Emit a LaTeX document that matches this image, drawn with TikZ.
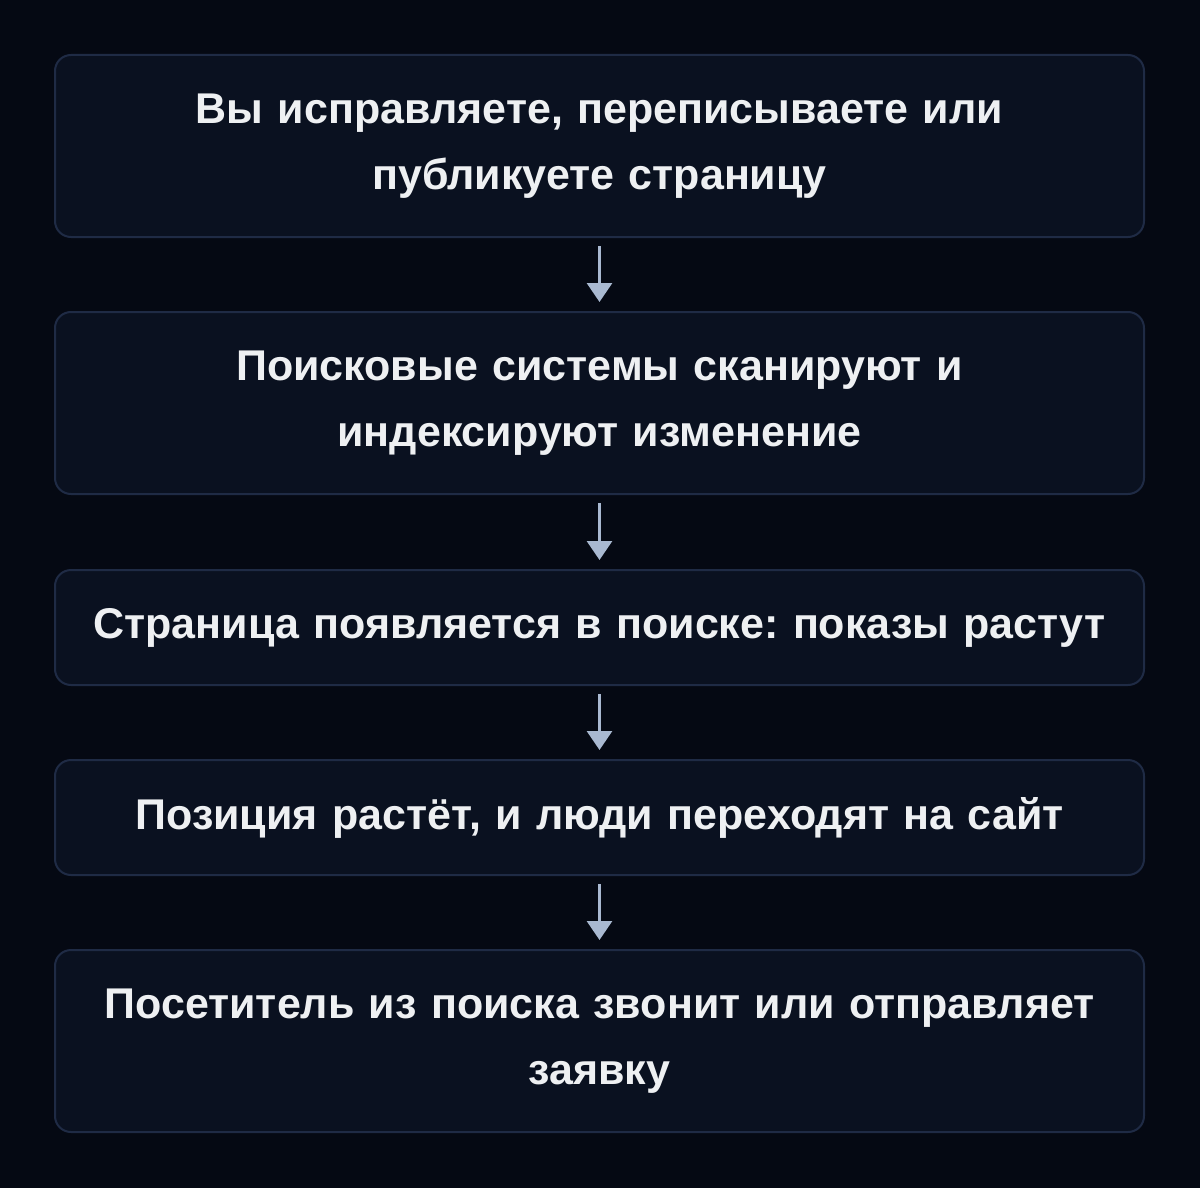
\documentclass[tikz,border=0pt]{standalone}
\usepackage{fontspec}
\setmainfont{Liberation Sans}
\frenchspacing
\usetikzlibrary{arrows.meta}
\definecolor{bg}{HTML}{050913}
\definecolor{boxfill}{HTML}{0A1120}
\definecolor{boxline}{HTML}{1F2B45}
\definecolor{arrowc}{HTML}{A9B9D1}
\definecolor{txt}{HTML}{EEF0F2}
\tikzset{
  stepbox/.style={draw=boxline, line width=2pt, fill=boxfill, rounded corners=16pt,
    minimum width=1089pt, text=txt, font=\fontsize{43}{66}\selectfont\bfseries, align=center, text width=1070pt, inner sep=0pt},
  flowarrow/.style={draw=arrowc, line width=3pt, -{Triangle[width=25pt,length=19pt]}}
}
\begin{document}
\begin{tikzpicture}[x=1pt,y=-1pt]
\useasboundingbox[fill=bg] (0,0) rectangle (1200,1188);
\node[stepbox, minimum height=182pt] (b1) at (599.5,146) {Вы исправляете, переписываете или\\публикуете страницу};
\node[stepbox, minimum height=182pt] (b2) at (599.5,403) {Поисковые системы сканируют и\\индексируют изменение};
\node[stepbox, minimum height=115pt] (b3) at (599.5,627.5) {Страница появляется в поиске: показы растут};
\node[stepbox, minimum height=115pt] (b4) at (599.5,817.5) {Позиция растёт, и люди переходят на сайт};
\node[stepbox, minimum height=182pt] (b5) at (599.5,1041) {Посетитель из поиска звонит или отправляет\\заявку};
\draw[flowarrow] ([yshift=-8pt]b1.south) -- ([yshift=9pt]b2.north);
\draw[flowarrow] ([yshift=-8pt]b2.south) -- ([yshift=9pt]b3.north);
\draw[flowarrow] ([yshift=-8pt]b3.south) -- ([yshift=9pt]b4.north);
\draw[flowarrow] ([yshift=-8pt]b4.south) -- ([yshift=9pt]b5.north);
\end{tikzpicture}
\end{document}
